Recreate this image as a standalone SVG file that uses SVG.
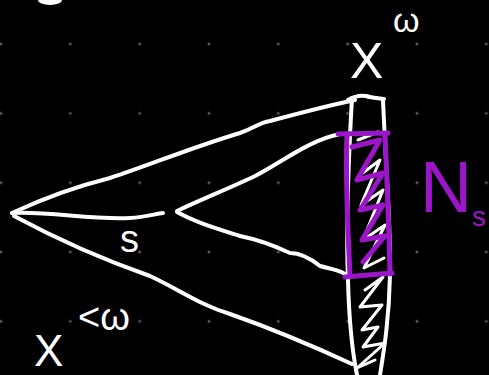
<svg xmlns="http://www.w3.org/2000/svg" width="489" height="375" viewBox="0 0 489 375">
<defs>
<pattern id="grid" patternUnits="userSpaceOnUse" x="-33.67" y="9.33" width="69.33" height="69.33">
<circle cx="34.67" cy="34.67" r="1.5" fill="#5a5a5a"/>
</pattern>
<style>
.w{fill:none;stroke:#fff;stroke-width:4;stroke-linecap:round;stroke-linejoin:round}
.wt{fill:none;stroke:#fff;stroke-width:3;stroke-linecap:round;stroke-linejoin:round}
.p{fill:none;stroke:#9b16c8;stroke-width:5;stroke-linecap:round;stroke-linejoin:round}
.tw{fill:#fff;font-family:"Liberation Sans",Arial,sans-serif}
.tp{fill:#9b16c8;font-family:"Liberation Sans",Arial,sans-serif}
</style>
</defs>
<rect width="489" height="375" fill="#000"/>
<rect width="489" height="375" fill="url(#grid)"/>
<ellipse cx="50" cy="0" rx="12" ry="5" fill="#fff"/>
<g id="connectors">
<path class="w" d="M12,213 C40,200 70,188 110,178 C150,165 190,148 240,133 C255,128 258,123 270,121 C300,113 330,105 355,100"/>
<path class="w" d="M12,213 C50,211 90,220 130,218 C145,217 155,214 163,213"/>
<path class="w" d="M177,211 C200,200 230,188 255,176 C285,160 310,140 340,134"/>
<path class="w" d="M177,212 C195,222 215,228 240,236 C260,240 275,246 290,253 C300,253 310,258 320,266 C335,270 345,271 348,278"/>
<path class="w" d="M14,216 C40,230 90,255 150,276 C180,290 200,305 230,314 C270,328 300,340 352,364"/>
</g>
<g id="lens">
<path class="w" d="M352,98 C349,150 346,230 348,280 C349,320 352,350 357,375"/>
<path class="w" d="M383,100 C386,170 391,230 390,275 C389,320 384,350 380,375"/>
<path class="w" d="M348,100 C353,97 360,95 366,96 C372,98 378,98 384,99"/>
<path class="wt" d="M358,140 L378,132 M360,175 L380,160 L361,205 L383,190 L363,240 L385,225 L364,268 L384,258 M365,290 L383,277 L360,307 L382,305 L362,330 L378,327 L363,347 L385,343 L357,368 L375,360"/>
</g>
<g id="box">
<path class="p" d="M338,134 L388,133"/>
<path class="p" d="M345,277 L392,273"/>
<path class="p" d="M347,134 C345,180 348,230 350,276"/>
<path class="p" d="M385,134 C387,180 389,230 390,274"/>
<path class="p" d="M352,147 L380,140 L357,180 L383,173 L360,210 L383,205 L362,240 L385,236 L363,262"/>
</g>
<g id="labels">
<text class="tw" x="350" y="78" font-size="50">X</text>
<text class="tw" x="393" y="32" font-size="34">ω</text>
<text class="tw" x="34" y="366" font-size="44">X</text>
<text class="tw" x="78" y="330" font-size="38">&lt;ω</text>
<text class="tw" x="120" y="252" font-size="38">s</text>
<text class="tp" x="420" y="212" font-size="72">N</text>
<text class="tp" x="472" y="226" font-size="28">s</text>
</g>
</svg>
